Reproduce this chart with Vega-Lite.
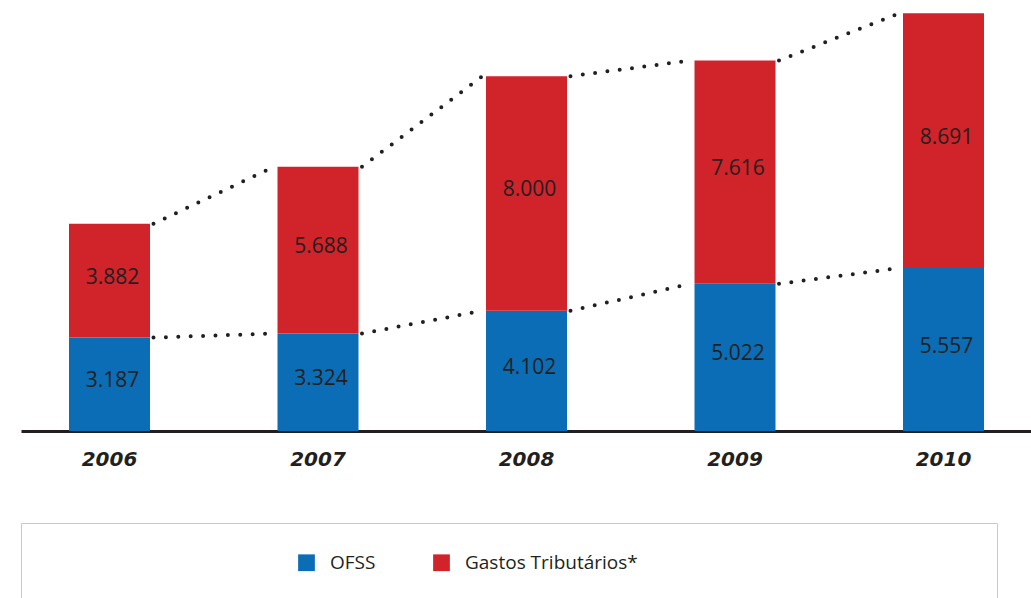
{
  "$schema": "https://vega.github.io/schema/vega-lite/v6.json",
  "padding": {"left": 20, "top": 0, "right": 0, "bottom": 0},
  "config": {
    "view": {"stroke": null},
    "font": "Open Sans",
    "locale": {"number": {"decimal": ",", "thousands": ".", "grouping": [3], "currency": ["R$ ", ""]}}
  },
  "datasets": {
    "bars": [
      {"year": "2006", "serie": "OFSS", "valor": 3187},
      {"year": "2006", "serie": "Gastos Tributários*", "valor": 3882},
      {"year": "2007", "serie": "OFSS", "valor": 3324},
      {"year": "2007", "serie": "Gastos Tributários*", "valor": 5688},
      {"year": "2008", "serie": "OFSS", "valor": 4102},
      {"year": "2008", "serie": "Gastos Tributários*", "valor": 8000},
      {"year": "2009", "serie": "OFSS", "valor": 5022},
      {"year": "2009", "serie": "Gastos Tributários*", "valor": 7616},
      {"year": "2010", "serie": "OFSS", "valor": 5557},
      {"year": "2010", "serie": "Gastos Tributários*", "valor": 8691}
    ],
    "lines": [
      {"year": "2006", "next": "2007", "level": "OFSS", "from": 3187, "to": 3324},
      {"year": "2007", "next": "2008", "level": "OFSS", "from": 3324, "to": 4102},
      {"year": "2008", "next": "2009", "level": "OFSS", "from": 4102, "to": 5022},
      {"year": "2009", "next": "2010", "level": "OFSS", "from": 5022, "to": 5557},
      {"year": "2006", "next": "2007", "level": "Total", "from": 7069, "to": 9012},
      {"year": "2007", "next": "2008", "level": "Total", "from": 9012, "to": 12102},
      {"year": "2008", "next": "2009", "level": "Total", "from": 12102, "to": 12638},
      {"year": "2009", "next": "2010", "level": "Total", "from": 12638, "to": 14248}
    ]
  },
  "spacing": 53,
  "vconcat": [
    {
      "width": 1011,
      "height": 431,
      "layer": [
        {
          "data": {"name": "bars"},
          "mark": {"type": "bar"},
          "encoding": {
            "x": {
              "field": "year", "type": "ordinal",
              "scale": {"domain": ["2006", "2007", "2008", "2009", "2010"], "paddingInner": 0.6115, "paddingOuter": 0.2302},
              "axis": {"domainColor": "#231f20", "domainWidth": 3, "ticks": false, "labelAngle": 0, "labelFont": "DejaVu Sans", "labelFontSize": 20, "labelFontWeight": "bold", "labelFontStyle": "italic", "labelColor": "#231f20", "labelPadding": 18, "title": null}
            },
            "y": {"field": "valor", "type": "quantitative", "stack": "zero", "scale": {"domain": [0, 14700], "nice": false}, "axis": null},
            "color": {
              "field": "serie", "type": "nominal",
              "scale": {"domain": ["OFSS", "Gastos Tributários*"], "range": ["#0a6db5", "#d1232a"]},
              "legend": {"orient": "none", "legendX": 276, "legendY": 553, "direction": "horizontal", "title": null, "symbolType": "square", "symbolSize": 280, "symbolStrokeWidth": 0, "symbolOpacity": 1, "labelFontSize": 19, "labelColor": "#231f20", "labelOffset": 14, "labelLimit": 400, "columnPadding": 56}
            },
            "order": {"field": "serie", "sort": "descending"}
          }
        },
        {
          "data": {"name": "bars"},
          "mark": {"type": "text", "fontSize": 21, "color": "#231f20", "dx": 3, "dy": -3},
          "encoding": {
            "x": {"field": "year", "type": "ordinal"},
            "y": {"field": "valor", "type": "quantitative", "stack": "zero", "bandPosition": 0.5},
            "detail": {"field": "serie"},
            "order": {"field": "serie", "sort": "descending"},
            "text": {"field": "valor", "type": "quantitative", "format": ",d"}
          }
        },
        {
          "data": {"name": "lines"},
          "mark": {"type": "rule", "strokeDash": [0, 12.4], "strokeCap": "round", "strokeWidth": 4, "color": "#231f20", "xOffset": 44, "x2Offset": -44},
          "encoding": {
            "x": {"field": "year", "type": "ordinal"},
            "x2": {"field": "next"},
            "y": {"field": "from", "type": "quantitative"},
            "y2": {"field": "to"},
            "detail": {"field": "level"}
          }
        }
      ]
    },
    {
      "width": 976,
      "height": 120,
      "view": {"stroke": "#c8c8c8", "strokeWidth": 1},
      "data": {"values": [{}]},
      "mark": {"type": "text"},
      "encoding": {"text": {"value": ""}}
    }
  ]
}
